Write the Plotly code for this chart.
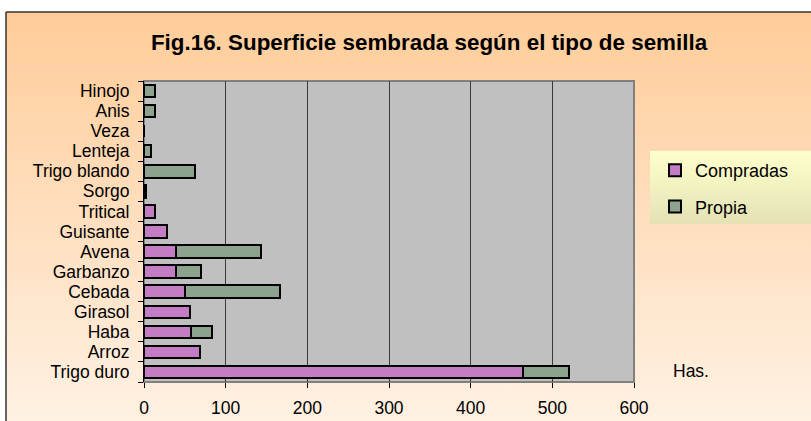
import base64
import plotly.graph_objects as go

W, H = 811, 421

cultivos = ["Trigo duro", "Arroz", "Haba", "Girasol", "Cebada", "Garbanzo", "Avena",
            "Guisante", "Tritical", "Sorgo", "Trigo blando", "Lenteja", "Veza", "Anis", "Hinojo"]
compradas = [464, 69, 57, 56, 50, 39, 39, 28, 14, 0, 0, 0, 0, 0, 0]
propia = [56, 0, 26, 0, 116, 31, 104, 0, 0, 3, 63, 8, 0, 14, 13]
x_ticks = [0, 100, 200, 300, 400, 500, 600]

font_name = "Arial, Liberation Sans, sans-serif"


def px_x(v):
    return v / W


def px_y(v):
    return 1 - v / H


def gradient(c1, c2):
    svg = ('<svg xmlns="http://www.w3.org/2000/svg" width="100" height="100" preserveAspectRatio="none">'
           '<defs><linearGradient id="g" x1="0" y1="0" x2="0" y2="1">'
           f'<stop offset="0" stop-color="{c1}"/><stop offset="1" stop-color="{c2}"/>'
           '</linearGradient></defs><rect width="100" height="100" fill="url(#g)"/></svg>')
    return "data:image/svg+xml;base64," + base64.b64encode(svg.encode()).decode()


fig = go.Figure()

fig.add_trace(go.Bar(
    y=cultivos, x=compradas, name="Compradas", orientation="h",
    marker=dict(color="#C47CC4", line=dict(color="black", width=2)),
    width=0.62, legendgroup="a"
))
fig.add_trace(go.Bar(
    y=cultivos, x=propia, name="Propia", orientation="h",
    marker=dict(color="#8DA38D", line=dict(color="black", width=2)),
    width=0.62, legendgroup="b"
))

# plot area geometry (pixels)
pl, pr, pt, pb = 144, 634, 81, 382

fig.update_layout(
    width=W, height=H,
    margin=dict(l=0, r=0, t=0, b=0, autoexpand=False),
    paper_bgcolor="white",
    plot_bgcolor="rgba(0,0,0,0)",
    barmode="stack",
    font=dict(family=font_name, size=17.5, color="black"),
    title=dict(
        text="<b>Fig.16. Superficie sembrada según el tipo de semilla</b>",
        x=px_x(429), y=px_y(42), xanchor="center", yanchor="middle",
        xref="paper", yref="paper",
        font=dict(family=font_name, size=22.4, color="black")
    ),
    xaxis=dict(
        domain=[px_x(pl), px_x(pr)], range=[0, 600],
        tickvals=x_ticks, ticks="outside", ticklen=5, tickcolor="black",
        showgrid=True, gridcolor="#3a3a3a", gridwidth=1,
        zeroline=False, showline=False, automargin=False,
        tickfont=dict(size=17.5), ticklabelstandoff=5
    ),
    yaxis=dict(
        domain=[px_y(pb), px_y(pt)], type="category",
        tickmode="array", tickvals=cultivos, ticktext=cultivos,
        ticks="outside", ticklen=5, tickcolor="black", tickson="boundaries",
        showline=True, linecolor="black", linewidth=1, automargin=False,
        showgrid=False, tickfont=dict(size=17.5), ticklabelstandoff=10
    ),
    legend=dict(
        x=px_x(655), y=px_y(152), xanchor="left", yanchor="top",
        bgcolor="rgba(0,0,0,0)", borderwidth=0,
        font=dict(size=18), traceorder="grouped", tracegroupgap=10
    ),
    images=[
        dict(source=gradient("#FFCC99", "#FFF1E3"), xref="paper", yref="paper",
             x=px_x(6), y=px_y(12), sizex=px_x(W - 6), sizey=(H - 12) / H,
             sizing="stretch", xanchor="left", yanchor="top", layer="below"),
        dict(source=gradient("#FFFFCC", "#E4E2B4"), xref="paper", yref="paper",
             x=px_x(650), y=px_y(151), sizex=px_x(W - 650), sizey=73 / H,
             sizing="stretch", xanchor="left", yanchor="top", layer="below"),
    ],
    shapes=[
        dict(type="rect", xref="paper", yref="paper",
             x0=px_x(pl), x1=px_x(pr), y0=px_y(pb), y1=px_y(pt),
             fillcolor="#C0C0C0", line=dict(color="#808080", width=2), layer="below"),
        dict(type="line", xref="paper", yref="paper",
             x0=px_x(6), x1=1, y0=px_y(12), y1=px_y(12),
             line=dict(color="#333333", width=1.5)),
        dict(type="line", xref="paper", yref="paper",
             x0=px_x(6), x1=px_x(6), y0=0, y1=px_y(12),
             line=dict(color="#333333", width=1.5)),
    ],
    annotations=[
        dict(text="Has.", xref="paper", yref="paper", x=px_x(671), y=px_y(371),
             xanchor="left", yanchor="middle", showarrow=False, font=dict(size=17.5))
    ]
)

# page without the default body margin so the figure sits at 0,0
fig.write_html("out.html", config={"displayModeBar": False},
               post_script="document.body.style.margin='0';document.body.style.overflow='hidden';")
